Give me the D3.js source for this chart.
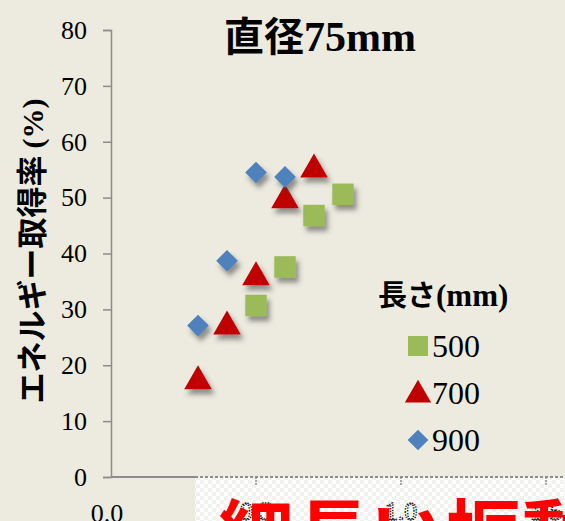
<!DOCTYPE html>
<html>
<head>
<meta charset="utf-8">
<script src="https://cdn.jsdelivr.net/npm/d3@7"></script>
<style>
  html, body { margin: 0; padding: 0; background: #edebe0; }
  svg { display: block; }
</style>
</head>
<body>
<script>
// Energy capture rate vs. slenderness, 75 mm diameter, by length
const lengths = ["500", "700", "900"];
const x500 = [0.5, 0.6, 0.7, 0.8];
const y500 = [30.7, 37.6, 46.8, 50.6];
const x700 = [0.3, 0.4, 0.5, 0.6, 0.7];
const y700 = [17.5, 27.3, 36.1, 49.9, 55.4];
const x900 = [0.3, 0.4, 0.5, 0.6];
const y900 = [27.1, 38.7, 54.5, 53.7];
const yTicks = [0, 10, 20, 30, 40, 50, 60, 70, 80];
const xTicks = [0.5, 1.0, 1.5];
const colors = ["#9bbb59", "#c00000", "#4f81bd"];

const W = 565, H = 521;
const svg = d3.select("body").append("svg").attr("width", W).attr("height", H);

const defs = svg.append("defs");
const sh = defs.append("filter").attr("id", "shadow")
  .attr("x", "-50%").attr("y", "-50%").attr("width", "220%").attr("height", "220%");
sh.append("feDropShadow").attr("dx", 3).attr("dy", 5).attr("stdDeviation", 2.6)
  .attr("flood-color", "#3c3c3c").attr("flood-opacity", 0.55);

const pat = defs.append("pattern").attr("id", "checker")
  .attr("width", 8).attr("height", 8).attr("patternUnits", "userSpaceOnUse");
pat.append("rect").attr("width", 8).attr("height", 8).attr("fill", "#ffffff");
pat.append("rect").attr("width", 4).attr("height", 4).attr("fill", "#f1f1ee");
pat.append("rect").attr("x", 4).attr("y", 4).attr("width", 4).attr("height", 4).attr("fill", "#f1f1ee");

const x = d3.scaleLinear().domain([0, 1.5]).range([111, 546]);
const y = d3.scaleLinear().domain([0, 80]).range([477, 30]);

const serif = "'Liberation Serif', 'Times New Roman', serif";
const cjk = "'Noto Sans CJK JP', 'Noto Sans', sans-serif";

// marker shapes: square, triangle, diamond (square turned 45°)
const markerPath = [
  d3.symbol().type(d3.symbolSquare).size(460)(),
  d3.symbol().type(d3.symbolTriangle).size(330)(),
  d3.symbol().type(d3.symbolSquare).size(235)()
];
const markerRot = [0, 0, 45];
const markerDy = [0, 2, 0];

// y axis
const yAxis = svg.append("g").attr("transform", `translate(${x(0)},0)`)
  .call(d3.axisLeft(y).tickValues(yTicks).tickFormat(d3.format("d")).tickSize(8).tickPadding(16));
yAxis.selectAll("path, line").attr("stroke", "#8c8c8c").attr("stroke-width", 1.5);
yAxis.selectAll("text").attr("font-family", serif).attr("font-size", 26).attr("fill", "#000");

// visible part of the x axis
svg.append("line").attr("x1", x(0)).attr("x2", 195).attr("y1", y(0)).attr("y2", y(0))
  .attr("stroke", "#8c8c8c").attr("stroke-width", 2);
svg.append("text").attr("x", x(0) - 4).attr("y", 522).attr("text-anchor", "middle")
  .attr("font-family", serif).attr("font-size", 26).text("0.0");

// series
const series = [
  { xs: x500, ys: y500 },
  { xs: x700, ys: y700 },
  { xs: x900, ys: y900 }
];
series.forEach((s, i) => {
  const pts = s.xs.map((v, j) => [v, s.ys[j]]);
  svg.append("g").attr("filter", "url(#shadow)")
    .selectAll("path").data(pts).join("path")
    .attr("transform", d => `translate(${x(d[0])},${y(d[1]) + markerDy[i]}) rotate(${markerRot[i]})`)
    .attr("d", markerPath[i])
    .attr("fill", colors[i]);
});

// title
svg.append("text").attr("x", 224).attr("y", 51)
  .attr("font-weight", "bold").attr("fill", "#000")
  .call(t => {
    t.append("tspan").attr("font-family", cjk).attr("font-size", 40).text("直径");
    t.append("tspan").attr("font-family", serif).attr("font-size", 42).text("75mm");
  });

// y axis title
svg.append("text").attr("transform", "translate(43,251) rotate(-90)")
  .attr("text-anchor", "middle").attr("font-weight", "bold").attr("fill", "#000")
  .call(t => {
    t.append("tspan").attr("font-family", cjk).attr("font-size", 31).text("エネルギー取得率 ");
    t.append("tspan").attr("font-family", serif).attr("font-size", 30).text("(%)");
  });

// legend
const lg = svg.append("g");
lg.append("text").attr("x", 378).attr("y", 306).attr("font-weight", "bold")
  .call(t => {
    t.append("tspan").attr("font-family", cjk).attr("font-size", 29).text("長さ");
    t.append("tspan").attr("font-family", serif).attr("font-size", 31).text("(mm)");
  });
const legY = [346, 393, 440];
const legPath = [
  d3.symbol().type(d3.symbolSquare).size(400)(),
  d3.symbol().type(d3.symbolTriangle).size(300)(),
  d3.symbol().type(d3.symbolSquare).size(215)()
];
lengths.forEach((L, i) => {
  lg.append("path").attr("transform", `translate(418,${legY[i] + markerDy[i]}) rotate(${markerRot[i]})`)
    .attr("d", legPath[i]).attr("fill", colors[i]);
  lg.append("text").attr("x", 432).attr("y", legY[i] + 11)
    .attr("font-family", serif).attr("font-size", 32).attr("fill", "#000").text(L);
});

// pasted caption panel over the lower axis
const panel = svg.append("g");
panel.append("rect").attr("x", 195).attr("y", y(0)).attr("width", W - 195).attr("height", H - y(0))
  .attr("fill", "url(#checker)");
panel.append("line").attr("x1", 195).attr("x2", W).attr("y1", y(0)).attr("y2", y(0))
  .attr("stroke", "#8f8f8f").attr("stroke-width", 2).attr("stroke-dasharray", "3,2");
panel.selectAll("line.tk").data(xTicks).join("line").attr("class", "tk")
  .attr("x1", d => x(d)).attr("x2", d => x(d)).attr("y1", y(0)).attr("y2", y(0) + 8)
  .attr("stroke", "#8f8f8f").attr("stroke-width", 1.5).attr("stroke-dasharray", "2,1");
panel.selectAll("text.tl").data(xTicks).join("text").attr("class", "tl")
  .attr("x", d => x(d)).attr("y", 520).attr("text-anchor", "middle")
  .attr("font-family", serif).attr("font-size", 26)
  .attr("fill", "#ffffff").attr("stroke", "#111").attr("stroke-width", 1.3)
  .attr("stroke-dasharray", "1.5,1.2").text(d => d3.format(".1f")(d));
panel.append("text").attr("x", 218).attr("y", 563)
  .attr("font-family", cjk).attr("font-weight", "bold").attr("font-size", 76)
  .attr("fill", "#ff0000").text("細長い振動");
</script>
</body>
</html>
